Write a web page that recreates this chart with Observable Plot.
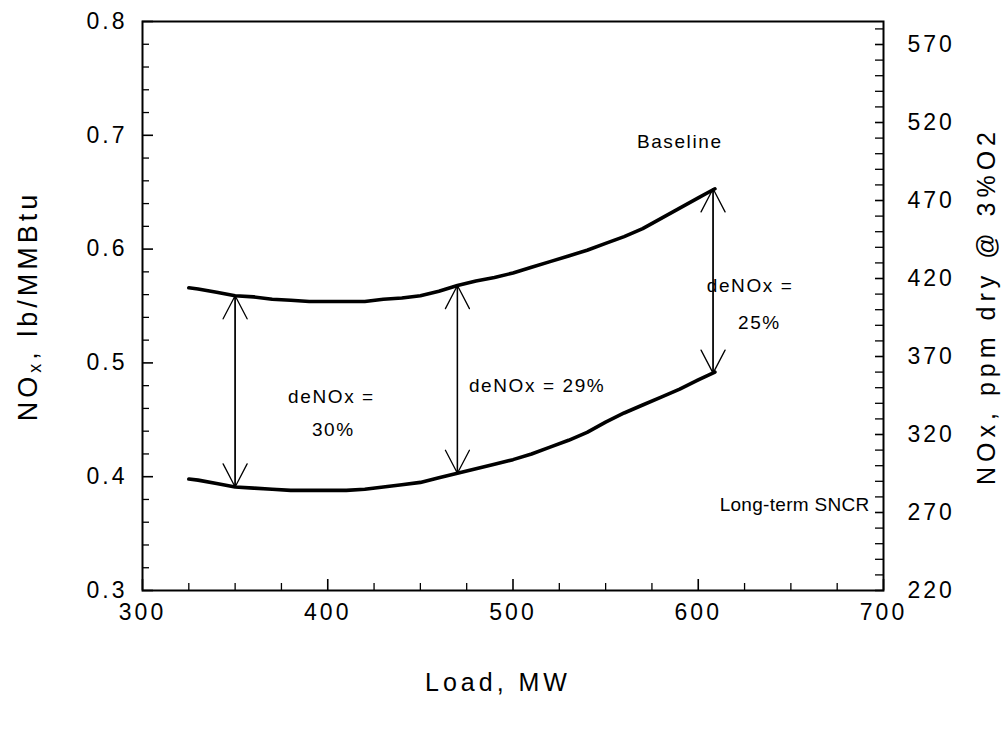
<!DOCTYPE html>
<html><head><meta charset="utf-8">
<script src="https://cdn.jsdelivr.net/npm/d3@7"></script>
<script src="https://cdn.jsdelivr.net/npm/@observablehq/plot@0.6"></script>
<style>
body{margin:0;background:#fff}
#chart svg{font-family:"Liberation Sans",Arial,sans-serif;}
#chart svg text{letter-spacing:1.6px;}
#chart svg g.ticklab text{letter-spacing:3px;}
#chart svg g.title text{letter-spacing:4px;}
#chart svg g.righttitle text{letter-spacing:5px;}
#chart svg g.sncrlab text{letter-spacing:0.3px;}
</style>
</head><body><div id="chart"></div>
<script>
// ---- data ----
const loadMW = [325,330,340,350,360,370,380,390,400,410,420,430,440,450,460,470,480,490,500,510,520,530,540,550,560,570,580,590,600,609];
const baselineNOx = [0.566,0.565,0.562,0.559,0.558,0.556,0.555,0.554,0.554,0.554,0.554,0.556,0.557,0.559,0.563,0.568,0.572,0.575,0.579,0.584,0.589,0.594,0.599,0.605,0.611,0.618,0.627,0.636,0.645,0.653];
const sncrNOx = [0.398,0.397,0.394,0.391,0.390,0.389,0.388,0.388,0.388,0.388,0.389,0.391,0.393,0.395,0.399,0.403,0.407,0.411,0.415,0.420,0.426,0.432,0.439,0.448,0.456,0.463,0.470,0.477,0.485,0.492];

const arrowLoad = [350, 470, 608];
const arrowLow  = [0.391, 0.403, 0.491];
const arrowHigh = [0.559, 0.568, 0.653];

const noteText = ["Baseline", "deNOx =", "30%", "deNOx = 29%", "deNOx =", "25%"];
const noteLoad = [590, 402, 403, 513, 628, 633];
const noteNOx  = [0.694, 0.470, 0.441, 0.480, 0.568, 0.535];
const seriesLabel = ["Long-term SNCR"];
const seriesLabelLoad = [652];
const seriesLabelNOx = [0.375];

const xMajor = [300, 400, 500, 600, 700];
const xMinor = [325,350,375,425,450,475,525,550,575,625,650,675];
const yMajor = [0.3, 0.4, 0.5, 0.6, 0.7, 0.8];
const yMinor = [0.32,0.34,0.36,0.38,0.42,0.44,0.46,0.48,0.52,0.54,0.56,0.58,0.62,0.64,0.66,0.68,0.72,0.74,0.76,0.78];
const ppmMajor = [220, 270, 320, 370, 420, 470, 520, 570];
const ppmMinor = [230,240,250,260,280,290,300,310,330,340,350,360,380,390,400,410,430,440,450,460,480,490,500,510,530,540,550,560,580];

// ppm dry @3%O2 <-> lb/MMBtu as drawn on the two axes
const ppmToLb = p => 0.3 + (p - 220) / 729.5;
const lbToPpm = v => Math.round((v - 0.3) * 729.5 + 220);

const baseRows = loadMW.map((x, i) => ({x, y: baselineNOx[i]}));
const sncrRows = loadMW.map((x, i) => ({x, y: sncrNOx[i]}));
const arrows = arrowLoad.map((x, i) => ({x, lo: arrowLow[i], hi: arrowHigh[i]}));
const notes = noteText.map((t, i) => ({t, x: noteLoad[i], y: noteNOx[i]}));
const sLabels = seriesLabel.map((t, i) => ({t, x: seriesLabelLoad[i], y: seriesLabelNOx[i]}));

const chart = Plot.plot({
  width: 1006, height: 732,
  marginLeft: 142, marginRight: 123, marginTop: 21, marginBottom: 142,
  x: {domain: [300, 700]},
  y: {domain: [0.3, 0.8]},
  style: {background: "#fff", color: "#000", fontFamily: '"Liberation Sans", Arial, sans-serif'},
  marks: [
    // inward ticks
    Plot.axisX(xMinor, {tickSize: 7, dy: -7, text: null, label: null, strokeWidth: 1.3}),
    Plot.axisX(xMajor, {tickSize: 11, dy: -11, text: null, label: null, strokeWidth: 1.6}),
    Plot.axisY(yMinor, {tickSize: 7, dx: 7, text: null, label: null, strokeWidth: 1.3}),
    Plot.axisY(yMajor, {tickSize: 11, dx: 11, text: null, label: null, strokeWidth: 1.6}),
    Plot.axisY(ppmMinor.map(ppmToLb), {anchor: "right", tickSize: 9, dx: -9, text: null, label: null, strokeWidth: 1.3}),
    Plot.axisY(ppmMajor.map(ppmToLb), {anchor: "right", tickSize: 9, dx: -9, text: null, label: null, strokeWidth: 1.6}),
    // tick labels
    Plot.axisX(xMajor, {tickSize: 0, tickPadding: 13, fontSize: 23, className: "ticklab", label: null}),
    Plot.axisY(yMajor, {tickSize: 0, tickPadding: 15, fontSize: 23, className: "ticklab", label: null, tickFormat: d3.format(".1f")}),
    Plot.axisY(ppmMajor.map(ppmToLb), {anchor: "right", tickSize: 0, tickPadding: 24, fontSize: 23, className: "ticklab", label: null, tickFormat: lbToPpm}),
    Plot.frame({strokeWidth: 2}),
    // curves
    Plot.line(baseRows, {x: "x", y: "y", stroke: "#000", strokeWidth: 3.6}),
    Plot.line(sncrRows, {x: "x", y: "y", stroke: "#000", strokeWidth: 3.6}),
    // double arrows
    Plot.arrow(arrows, {x: "x", y1: "lo", y2: "hi", stroke: "#000", strokeWidth: 1.3, headAngle: 55, headLength: 30}),
    Plot.arrow(arrows, {x: "x", y1: "hi", y2: "lo", stroke: "#000", strokeWidth: 1.3, headAngle: 55, headLength: 30}),
    // annotations
    Plot.text(notes, {x: "x", y: "y", text: "t", fontSize: 19, fill: "#000"}),
    Plot.text(sLabels, {x: "x", y: "y", text: "t", fontSize: 19, fill: "#000", className: "sncrlab"}),
    // axis titles
    Plot.text(["Load, MW"], {frameAnchor: "bottom", dy: 100, dx: -15, fontSize: 25, fill: "#000", className: "title"}),
    Plot.text(["NOx, lb/MMBtu"], {frameAnchor: "left", textAnchor: "middle", dx: -114, rotate: -90, fontSize: 27, fill: "#000", className: "title lefttitle"}),
    Plot.text(["NOx, ppm dry @ 3%O2"], {frameAnchor: "right", textAnchor: "middle", dx: 103, rotate: -90, fontSize: 25, fill: "#000", className: "righttitle"})
  ]
});
document.getElementById("chart").appendChild(chart);

// subscript x in the left title
const lt = chart.querySelector("g.lefttitle text");
if (lt) {
  lt.textContent = "";
  const ns = "http://www.w3.org/2000/svg";
  const a = document.createElementNS(ns, "tspan"); a.textContent = "NO";
  const b = document.createElementNS(ns, "tspan"); b.textContent = "x"; b.setAttribute("font-size", "18"); b.setAttribute("dy", "4");
  const c = document.createElementNS(ns, "tspan"); c.textContent = ", lb/MMBtu"; c.setAttribute("dy", "-4");
  lt.append(a, b, c);
}
</script>
</body></html>
